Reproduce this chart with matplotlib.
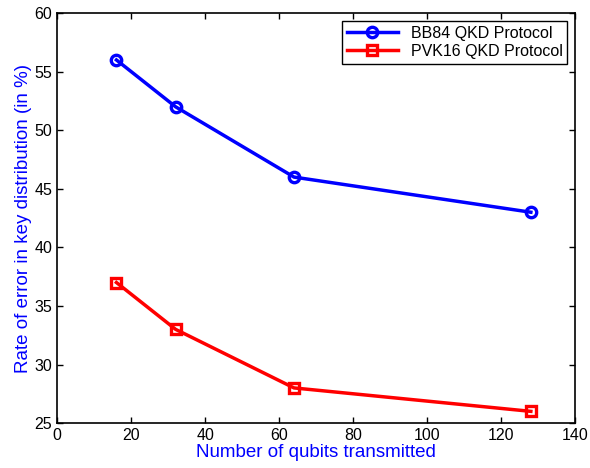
import matplotlib
matplotlib.use('Agg')
import matplotlib.pyplot as plt

qubits = [16, 32, 64, 128]
bb84_error = [56, 52, 46, 43]
pvk16_error = [37, 33, 28, 26]

plt.rcParams['font.family'] = ['Liberation Sans', 'DejaVu Sans']

fig = plt.figure(figsize=(5.9, 4.68), dpi=100)
ax = fig.add_axes([0.097, 0.096, 0.878, 0.876])

ax.plot(qubits, bb84_error, '-o', color='blue', lw=2.5, ms=7.5, mew=2.4,
        mfc='none', label='BB84 QKD Protocol')
ax.plot(qubits, pvk16_error, '-s', color='red', lw=2.5, ms=6.5, mew=2.4,
        mfc='none', label='PVK16 QKD Protocol')

ax.set_xlim(0, 140)
ax.set_ylim(25, 60)
ax.set_xticks(range(0, 141, 20))
ax.set_yticks(range(25, 61, 5))
ax.tick_params(direction='in', labelsize=11.5, length=4, width=1, top=True, right=True)
for s in ax.spines.values():
    s.set_linewidth(1.2)

ax.set_xlabel('Number of qubits transmitted', color='blue', fontsize=13.5, labelpad=1)
ax.set_ylabel('Rate of error in key distribution (in %)', color='blue', fontsize=13.5, labelpad=2)

leg = ax.legend(loc='upper right', fontsize=11.5, fancybox=False, framealpha=1,
                edgecolor='black', borderaxespad=0.5, handlelength=3.2,
                borderpad=0.3, labelspacing=0.2)
leg.get_frame().set_linewidth(1)

plt.savefig('out.png', dpi=100)
